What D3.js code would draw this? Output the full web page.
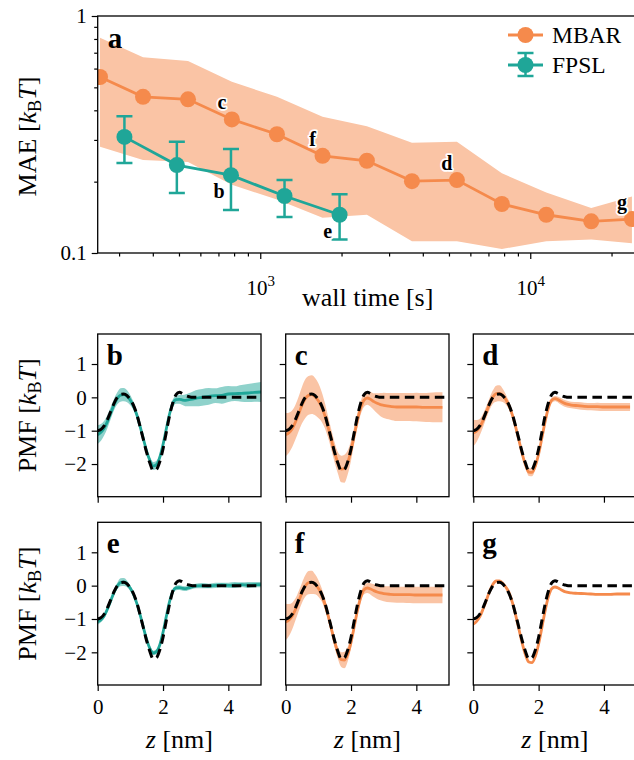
<!DOCTYPE html>
<html><head><meta charset="utf-8">
<script src="https://cdn.jsdelivr.net/npm/d3@7"></script>
<style>
body{margin:0;background:#fff}
svg{display:block}
text{font-family:"Liberation Serif","DejaVu Serif",serif;fill:#000}
</style>
</head><body>
<svg id="chart" width="634" height="760"></svg>
<script>
// ---------- data: panel a (MAE vs wall time) ----------
const mbarTime  = [255, 368, 540, 785, 1153, 1701, 2483, 3646, 5350, 7850, 11460, 16820, 23800];
const mbarMAE   = [0.553, 0.456, 0.445, 0.366, 0.317, 0.257, 0.245, 0.201, 0.203, 0.161, 0.145, 0.136, 0.139];
const mbarUpper = [0.810, 0.669, 0.646, 0.528, 0.456, 0.376, 0.343, 0.292, 0.295, 0.217, 0.180, 0.155, 0.173];
const mbarLower = [0.281, 0.247, 0.242, 0.194, 0.168, 0.141, 0.145, 0.112, 0.112, 0.104, 0.112, 0.114, 0.110];
const mbarTags  = ["", "", "", "c", "", "f", "", "", "d", "", "", "", "g"];

const fpslTime  = [314, 491, 779, 1230, 1967];
const fpslMAE   = [0.309, 0.235, 0.213, 0.174, 0.145];
const fpslUpper = [0.378, 0.295, 0.275, 0.203, 0.177];
const fpslLower = [0.240, 0.179, 0.152, 0.142, 0.114];
const fpslTags  = ["", "", "b", "", "e"];

const timeMajorTicks = [1e3, 1e4];
const timeMinorTicks = [300,400,500,600,700,800,900,2000,3000,4000,5000,6000,7000,8000,9000,20000];
const maeMajorTicks  = [0.1, 1];
const maeMinorTicks  = [0.2,0.3,0.4,0.5,0.6,0.7,0.8,0.9];

// ---------- data: panels b-g (PMF profiles) ----------
const zGrid = [0,0.1,0.2,0.3,0.4,0.5,0.6,0.7,0.8,0.9,1.0,1.1,1.2,1.3,1.4,1.5,1.6,1.7,1.8,1.9,
  2.0,2.1,2.2,2.3,2.4,2.5,2.6,2.7,2.8,2.9,3.0,3.2,3.4,3.6,3.8,4.0,4.2,4.4,4.6,4.8,5.0];
const refPMF = [-1.00,-0.96,-0.85,-0.66,-0.42,-0.18,0.00,0.09,0.10,0.05,
  -0.07,-0.25,-0.52,-0.88,-1.27,-1.66,-1.98,-2.20,-2.16,-1.93,
  -1.55,-1.05,-0.55,-0.16,0.08,0.15,0.11,0.05,0.02,0.00,
  0.00,0,0,0,0,0,0,0,0,0,0];
const pmfB = [-1.12,-1.05,-0.92,-0.72,-0.47,-0.22,-0.03,0.07,0.08,0.03,
  -0.09,-0.27,-0.53,-0.88,-1.25,-1.62,-1.90,-2.06,-2.02,-1.80,
  -1.42,-0.95,-0.50,-0.18,-0.07,-0.06,-0.08,-0.09,-0.07,-0.05,
  -0.03,0.00,0.03,0.05,0.06,0.10,0.11,0.12,0.13,0.15,0.16];
const sdB = [0.28,0.25,0.22,0.20,0.18,0.17,0.18,0.20,0.20,0.18,
  0.15,0.12,0.10,0.10,0.10,0.10,0.10,0.12,0.12,0.10,
  0.10,0.10,0.10,0.12,0.12,0.13,0.15,0.18,0.20,0.22,
  0.24,0.25,0.25,0.22,0.25,0.24,0.22,0.25,0.27,0.28,0.30];
const pmfC = [-1.12,-1.06,-0.94,-0.74,-0.49,-0.23,-0.04,0.06,0.08,0.02,
  -0.10,-0.28,-0.55,-0.90,-1.28,-1.66,-1.97,-2.15,-2.14,-1.95,
  -1.60,-1.13,-0.67,-0.30,-0.08,-0.02,-0.06,-0.13,-0.18,-0.22,
  -0.24,-0.27,-0.29,-0.29,-0.29,-0.29,-0.30,-0.30,-0.30,-0.30,null];
const sdC = [0.65,0.60,0.55,0.52,0.52,0.55,0.58,0.58,0.58,0.56,
  0.52,0.45,0.38,0.32,0.30,0.30,0.32,0.40,0.42,0.36,
  0.30,0.25,0.22,0.20,0.20,0.20,0.22,0.25,0.30,0.35,
  0.38,0.40,0.42,0.42,0.42,0.43,0.43,0.44,0.45,0.45,null];
const pmfD = [-1.07,-1.01,-0.89,-0.69,-0.44,-0.19,0.01,0.11,0.12,0.06,
  -0.07,-0.26,-0.54,-0.90,-1.30,-1.70,-2.03,-2.24,-2.25,-2.06,
  -1.70,-1.22,-0.72,-0.32,-0.09,-0.04,-0.07,-0.13,-0.18,-0.21,
  -0.23,-0.25,-0.27,-0.28,-0.28,-0.29,-0.29,-0.29,-0.29,-0.29,null];
const sdD = [0.40,0.33,0.25,0.20,0.18,0.18,0.20,0.24,0.24,0.20,
  0.15,0.12,0.10,0.10,0.10,0.10,0.10,0.12,0.12,0.10,
  0.08,0.08,0.08,0.08,0.08,0.08,0.09,0.10,0.10,0.10,
  0.10,0.11,0.11,0.11,0.12,0.12,0.12,0.12,0.12,0.12,null];
const pmfE = [-1.08,-1.02,-0.90,-0.70,-0.45,-0.20,-0.01,0.10,0.11,0.05,
  -0.08,-0.27,-0.54,-0.88,-1.26,-1.62,-1.89,-2.02,-1.98,-1.78,
  -1.40,-0.93,-0.48,-0.17,-0.07,-0.06,-0.08,-0.09,-0.06,-0.03,
  -0.01,0.00,-0.01,0.01,0.02,0.01,0.02,0.03,0.02,0.03,0.03];
const sdE = [0.09,0.08,0.08,0.08,0.08,0.08,0.10,0.12,0.12,0.10,
  0.08,0.07,0.07,0.07,0.07,0.07,0.07,0.07,0.07,0.07,
  0.07,0.07,0.07,0.07,0.07,0.07,0.07,0.07,0.07,0.07,
  0.07,0.08,0.07,0.08,0.07,0.08,0.09,0.07,0.09,0.08,0.08];
const pmfF = [-1.09,-1.03,-0.91,-0.71,-0.46,-0.21,-0.01,0.09,0.10,0.04,
  -0.08,-0.27,-0.55,-0.90,-1.30,-1.69,-2.02,-2.22,-2.23,-2.05,
  -1.70,-1.22,-0.73,-0.34,-0.12,-0.07,-0.10,-0.15,-0.19,-0.22,
  -0.24,-0.26,-0.27,-0.27,-0.27,-0.28,-0.28,-0.28,-0.28,-0.28,null];
const sdF = [0.55,0.48,0.40,0.33,0.30,0.30,0.32,0.35,0.35,0.30,
  0.25,0.20,0.17,0.15,0.15,0.16,0.18,0.22,0.25,0.22,
  0.18,0.15,0.14,0.14,0.14,0.15,0.17,0.19,0.21,0.22,
  0.23,0.24,0.24,0.24,0.25,0.25,0.25,0.25,0.25,0.25,null];
const pmfG = [-1.15,-1.07,-0.93,-0.70,-0.44,-0.17,0.04,0.14,0.14,0.07,
  -0.05,-0.22,-0.52,-0.90,-1.32,-1.74,-2.08,-2.29,-2.31,-2.12,
  -1.75,-1.26,-0.75,-0.33,-0.09,-0.04,-0.07,-0.13,-0.18,-0.20,
  -0.22,-0.23,-0.24,-0.25,-0.26,-0.26,-0.26,-0.25,-0.25,-0.25,null];
const sdG = [0.05,0.04,0.04,0.03,0.03,0.03,0.03,0.03,0.03,0.03,
  0.03,0.03,0.03,0.03,0.03,0.03,0.03,0.03,0.03,0.03,
  0.03,0.03,0.03,0.03,0.03,0.03,0.03,0.03,0.03,0.03,
  0.03,0.03,0.03,0.03,0.03,0.03,0.03,0.03,0.03,0.03,null];
const pmfTicksX = [0, 2, 4];
const pmfTicksY = [-2, -1, 0, 1];

// ---------- styles ----------
const ORANGE = "#f58a4c", ORANGE_BAND = "#fac4a5";
const TEAL = "#1fa698", TEAL_BAND = "#8fd2cb";
const methodColor = {MBAR: [ORANGE, ORANGE_BAND], FPSL: [TEAL, TEAL_BAND]};

const panels = [
  {tag:"b", method:"FPSL", mean:pmfB, sd:sdB, col:0, row:0},
  {tag:"c", method:"MBAR", mean:pmfC, sd:sdC, col:1, row:0},
  {tag:"d", method:"MBAR", mean:pmfD, sd:sdD, col:2, row:0},
  {tag:"e", method:"FPSL", mean:pmfE, sd:sdE, col:0, row:1},
  {tag:"f", method:"MBAR", mean:pmfF, sd:sdF, col:1, row:1},
  {tag:"g", method:"MBAR", mean:pmfG, sd:sdG, col:2, row:1}
];

const svg = d3.select("#chart");
const TICK_FS = 21, LABEL_FS = 26;

function kbtLabel(sel, prefix) {
  sel.append("tspan").text(prefix + " [");
  sel.append("tspan").attr("font-style","italic").text("k");
  sel.append("tspan").attr("font-size", LABEL_FS*0.7).attr("dy", 5).text("B");
  sel.append("tspan").attr("font-style","italic").attr("dy", -5).text("T");
  sel.append("tspan").text("]");
}

// ================= panel a =================
const A = {l: 97.7, t: 16, b: 253};
const x = d3.scaleLog().domain([250, 25000]).range([A.l, A.l + 540]);
const y = d3.scaleLog().domain([0.1, 1]).range([A.b, A.t]);
const gA = svg.append("g");
svg.append("defs").append("clipPath").attr("id","clipA")
  .append("rect").attr("x", A.l).attr("y", A.t).attr("width", 540).attr("height", A.b - A.t);

function styleAxis(g) {
  g.select(".domain").remove();
  g.attr("font-family", null);
  g.selectAll(".tick line").attr("stroke","#000").attr("stroke-width",1.2);
  g.selectAll(".tick text").attr("font-size", TICK_FS).attr("fill","#000");
}
gA.append("g").attr("transform",`translate(0,${A.b})`)
  .call(d3.axisBottom(x).tickValues(timeMinorTicks).tickSize(3.5).tickFormat(""))
  .call(styleAxis);
const xMaj = gA.append("g").attr("transform",`translate(0,${A.b})`)
  .call(d3.axisBottom(x).tickValues(timeMajorTicks).tickSize(6).tickPadding(4).tickFormat(""))
  .call(styleAxis);
xMaj.selectAll(".tick").append("text")
  .attr("y", 42).attr("text-anchor","middle").attr("font-size", TICK_FS)
  .each(function(d){
    const t = d3.select(this);
    t.append("tspan").text("10");
    t.append("tspan").attr("dy", -9).attr("font-size", 15).text(Math.round(Math.log10(d)));
  });
gA.append("g").attr("transform",`translate(${A.l},0)`)
  .call(d3.axisLeft(y).tickValues(maeMinorTicks).tickSize(3.5).tickFormat(""))
  .call(styleAxis);
gA.append("g").attr("transform",`translate(${A.l},0)`)
  .call(d3.axisLeft(y).tickValues(maeMajorTicks).tickSize(6).tickPadding(5).tickFormat(d => d >= 1 ? "1" : "0.1"))
  .call(styleAxis);

const plotA = gA.append("g").attr("clip-path","url(#clipA)");
const mbarRows = mbarTime.map((t,i) => ({t, v: mbarMAE[i], lo: mbarLower[i], hi: mbarUpper[i], tag: mbarTags[i]}));
const fpslRows = fpslTime.map((t,i) => ({t, v: fpslMAE[i], lo: fpslLower[i], hi: fpslUpper[i], tag: fpslTags[i]}));
plotA.append("path").datum(mbarRows)
  .attr("d", d3.area().x(d => x(d.t)).y0(d => y(d.lo)).y1(d => y(d.hi)))
  .attr("fill", ORANGE_BAND).attr("stroke","none");
plotA.append("path").datum(mbarRows)
  .attr("d", d3.line().x(d => x(d.t)).y(d => y(d.v)))
  .attr("fill","none").attr("stroke", ORANGE).attr("stroke-width", 2.8);
plotA.selectAll("circle.mbar").data(mbarRows).join("circle").attr("class","mbar")
  .attr("cx", d => x(d.t)).attr("cy", d => y(d.v)).attr("r", 8).attr("fill", ORANGE);

plotA.append("path").datum(fpslRows)
  .attr("d", d3.line().x(d => x(d.t)).y(d => y(d.v)))
  .attr("fill","none").attr("stroke", TEAL).attr("stroke-width", 2.8);
const eb = plotA.selectAll("g.eb").data(fpslRows).join("g").attr("class","eb")
  .attr("stroke", TEAL).attr("stroke-width", 2.5);
eb.append("line").attr("x1", d => x(d.t)).attr("x2", d => x(d.t)).attr("y1", d => y(d.lo)).attr("y2", d => y(d.hi));
eb.append("line").attr("x1", d => x(d.t)-8).attr("x2", d => x(d.t)+8).attr("y1", d => y(d.lo)).attr("y2", d => y(d.lo));
eb.append("line").attr("x1", d => x(d.t)-8).attr("x2", d => x(d.t)+8).attr("y1", d => y(d.hi)).attr("y2", d => y(d.hi));
plotA.selectAll("circle.fpsl").data(fpslRows).join("circle").attr("class","fpsl")
  .attr("cx", d => x(d.t)).attr("cy", d => y(d.v)).attr("r", 8).attr("fill", TEAL);

function tagText(g, rows, dx, dy) {
  g.selectAll(null).data(rows.filter(d => d.tag)).join("text")
    .attr("x", d => x(d.t) + dx).attr("y", d => y(d.v) + dy)
    .attr("text-anchor","middle").attr("font-size", 20).attr("font-weight","bold")
    .attr("stroke","#fff").attr("stroke-width",3.5).attr("paint-order","stroke").attr("stroke-linejoin","round")
    .text(d => d.tag);
}
tagText(gA, mbarRows, -10, -10);
tagText(gA, fpslRows, -12, 23);

gA.append("rect").attr("x", A.l).attr("y", A.t).attr("width", 540).attr("height", A.b - A.t)
  .attr("fill","none").attr("stroke","#000").attr("stroke-width",1.3);
gA.append("text").attr("x", A.l + 10).attr("y", A.t + 32).attr("font-size", 29).attr("font-weight","bold").text("a");

gA.append("text").attr("x", (A.l + 637.7)/2).attr("y", 306).attr("text-anchor","middle")
  .attr("font-size", LABEL_FS).text("wall time [s]");
gA.append("text").attr("transform",`translate(36,${(A.t + A.b)/2 + 2}) rotate(-90)`)
  .attr("text-anchor","middle").attr("font-size", LABEL_FS).call(kbtLabel, "MAE");

// legend
const leg = gA.append("g");
const legItems = [{name:"MBAR", color:ORANGE, err:false, yy:35}, {name:"FPSL", color:TEAL, err:true, yy:65}];
legItems.forEach(it => {
  const g = leg.append("g");
  g.append("line").attr("x1", 508).attr("x2", 543).attr("y1", it.yy).attr("y2", it.yy)
    .attr("stroke", it.color).attr("stroke-width", 2.8);
  if (it.err) {
    g.append("line").attr("x1", 525.5).attr("x2", 525.5).attr("y1", it.yy-12).attr("y2", it.yy+11).attr("stroke", it.color).attr("stroke-width", 2.5);
    g.append("line").attr("x1", 517.5).attr("x2", 533.5).attr("y1", it.yy-12).attr("y2", it.yy-12).attr("stroke", it.color).attr("stroke-width", 2.5);
    g.append("line").attr("x1", 517.5).attr("x2", 533.5).attr("y1", it.yy+11).attr("y2", it.yy+11).attr("stroke", it.color).attr("stroke-width", 2.5);
  }
  g.append("circle").attr("cx", 525.5).attr("cy", it.yy).attr("r", 8).attr("fill", it.color);
  g.append("text").attr("x", 552).attr("y", it.yy + 8).attr("font-size", 23.5).text(it.name);
});

// ================= panels b-g =================
const P = {w: 163.3, h: 162.7, lefts: [97.7, 285.7, 473.3], tops: [334, 522.3]};
const defs = svg.select("defs");
panels.forEach((p, i) => {
  const L = P.lefts[p.col], T = P.tops[p.row];
  const xs = d3.scaleLinear().domain([0, 5]).range([L, L + P.w]);
  const ys = d3.scaleLinear().domain([-2.98, 1.9]).range([T + P.h, T]);
  const g = svg.append("g");
  defs.append("clipPath").attr("id", "clip" + i).append("rect")
    .attr("x", L).attr("y", T).attr("width", P.w).attr("height", P.h);
  const [c, cb] = methodColor[p.method];
  const rows = zGrid.map((z, k) => ({z, m: p.mean[k], s: p.sd[k], r: refPMF[k]}));
  const ok = d => d.m != null;
  const plot = g.append("g").attr("clip-path", `url(#clip${i})`);
  plot.append("path").datum(rows)
    .attr("d", d3.area().defined(ok).curve(d3.curveMonotoneX).x(d => xs(d.z)).y0(d => ys(d.m - d.s)).y1(d => ys(d.m + d.s)))
    .attr("fill", cb);
  plot.append("path").datum(rows)
    .attr("d", d3.line().defined(ok).curve(d3.curveMonotoneX).x(d => xs(d.z)).y(d => ys(d.m)))
    .attr("fill","none").attr("stroke", c).attr("stroke-width", 2.8);
  plot.append("path").datum(rows)
    .attr("d", d3.line().curve(d3.curveMonotoneX).x(d => xs(d.z)).y(d => ys(d.r)))
    .attr("fill","none").attr("stroke","#000").attr("stroke-width", 3).attr("stroke-dasharray","9.5,5.5");

  g.append("g").attr("transform",`translate(0,${T + P.h})`)
    .call(d3.axisBottom(xs).tickValues(pmfTicksX).tickSize(6).tickPadding(8)
      .tickFormat(p.row === 1 ? d3.format("d") : ""))
    .call(styleAxis);
  g.append("g").attr("transform",`translate(${L},0)`)
    .call(d3.axisLeft(ys).tickValues(pmfTicksY).tickSize(6).tickPadding(5)
      .tickFormat(p.col === 0 ? (d => d < 0 ? "\u2212" + Math.abs(d) : String(d)) : ""))
    .call(styleAxis);

  g.append("rect").attr("x", L).attr("y", T).attr("width", P.w).attr("height", P.h)
    .attr("fill","none").attr("stroke","#000").attr("stroke-width",1.3);
  g.append("text").attr("x", L + 9).attr("y", T + 31).attr("font-size", 29).attr("font-weight","bold").text(p.tag);

  if (p.row === 1) {
    const t = g.append("text").attr("x", L + P.w/2).attr("y", 748).attr("text-anchor","middle").attr("font-size", LABEL_FS);
    t.append("tspan").attr("font-style","italic").text("z");
    t.append("tspan").text(" [nm]");
  }
  if (p.col === 0) {
    g.append("text").attr("transform",`translate(36,${T + P.h/2}) rotate(-90)`)
      .attr("text-anchor","middle").attr("font-size", LABEL_FS).call(kbtLabel, "PMF");
  }
});
</script>
</body></html>
